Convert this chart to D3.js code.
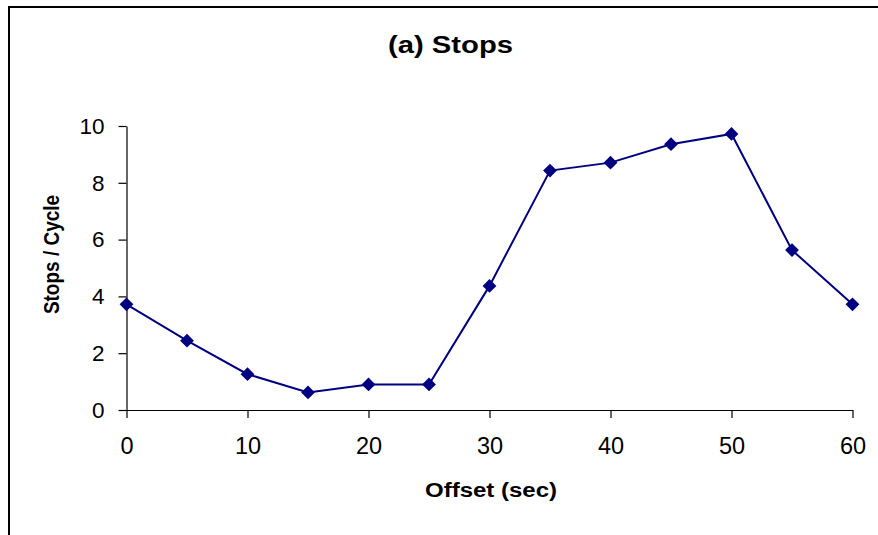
<!DOCTYPE html>
<html>
<head>
<meta charset="utf-8">
<script src="https://cdn.jsdelivr.net/npm/d3@7"></script>
<style>
  html, body { margin: 0; padding: 0; background: #fff; }
  svg { display: block; font-family: "Liberation Sans", Arial, sans-serif; }
</style>
</head>
<body>
<svg id="chart" width="878" height="535"></svg>
<script>
const offsets = [0, 5, 10, 15, 20, 25, 30, 35, 40, 45, 50, 55, 60];
const stops = [3.72, 2.44, 1.26, 0.62, 0.90, 0.90, 4.37, 8.43, 8.71, 9.36, 9.72, 5.63, 3.72];
const xTicks = [0, 10, 20, 30, 40, 50, 60];
const yTicks = [0, 2, 4, 6, 8, 10];
const titleText = "(a) Stops";
const xLabel = "Offset (sec)";
const yLabel = "Stops / Cycle";

const svg = d3.select("#chart");
const navy = "#000080";

// outer frame
svg.append("rect")
  .attr("x", 9).attr("y", 7)
  .attr("width", 900).attr("height", 600)
  .attr("fill", "none").attr("stroke", "#000").attr("stroke-width", 2);

const x = d3.scaleLinear().domain([0, 60]).range([126.5, 852.5]);
const y = d3.scaleLinear().domain([0, 10]).range([410, 126]);

// axes
const xAxis = svg.append("g").attr("transform", `translate(0,${y(0)})`)
  .call(d3.axisBottom(x).tickValues(xTicks).tickSize(8).tickPadding(19).tickSizeOuter(0));
const yAxis = svg.append("g").attr("transform", `translate(${x(0)},0)`)
  .call(d3.axisLeft(y).tickValues(yTicks).tickSize(8).tickPadding(14).tickSizeOuter(0));

[xAxis, yAxis].forEach(g => {
  g.select(".domain").attr("stroke", "#000").attr("stroke-width", 1.2);
  g.selectAll(".tick line").attr("stroke", "#000").attr("stroke-width", 1.2);
  g.selectAll(".tick text").attr("fill", "#000")
    .style("font-family", '"Liberation Sans", Arial, sans-serif');
});
xAxis.selectAll(".tick text").style("font-size", "23.5px");
yAxis.selectAll(".tick text").style("font-size", "22.5px");

// line
const line = d3.line().x((d, i) => x(offsets[i])).y(d => y(d));
svg.append("path").datum(stops)
  .attr("d", line)
  .attr("fill", "none").attr("stroke", navy).attr("stroke-width", 2);

// markers
const sym = d3.symbol().type(d3.symbolSquare).size(95);
svg.append("g").selectAll("path").data(stops).join("path")
  .attr("d", sym)
  .attr("transform", (d, i) => `translate(${x(offsets[i])},${y(d)}) rotate(45)`)
  .attr("fill", navy);

// title
svg.append("text")
  .attr("x", 450.5).attr("y", 53)
  .attr("text-anchor", "middle")
  .style("font-size", "23.5px").style("font-weight", "bold")
  .attr("textLength", 125).attr("lengthAdjust", "spacingAndGlyphs")
  .text(titleText);

// x label
svg.append("text")
  .attr("x", 491).attr("y", 497)
  .attr("text-anchor", "middle")
  .style("font-size", "20px").style("font-weight", "bold")
  .attr("textLength", 132).attr("lengthAdjust", "spacingAndGlyphs")
  .text(xLabel);

// y label (slightly widened like the reference)
svg.append("text")
  .attr("transform", "translate(59,254.5) rotate(-90) scale(1,1.2)")
  .attr("text-anchor", "middle")
  .style("font-size", "19px").style("font-weight", "bold")
  .text(yLabel);
</script>
</body>
</html>
